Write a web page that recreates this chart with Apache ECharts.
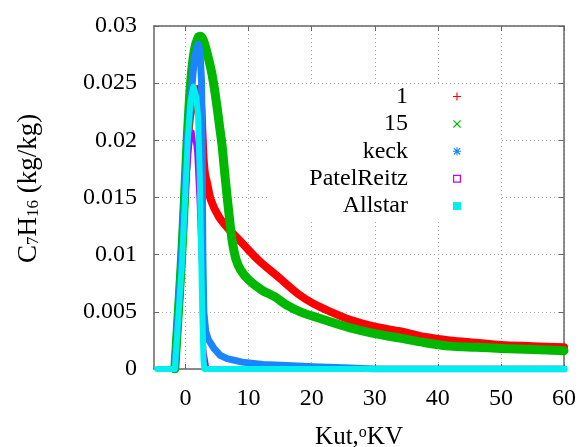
<!DOCTYPE html>
<html>
<head>
<meta charset="utf-8">
<script src="https://cdn.jsdelivr.net/npm/echarts@6/dist/echarts.min.js"></script>
<style>html,body{margin:0;padding:0;background:#fff}#c{width:579px;height:447px}</style>
</head>
<body>
<div id="c"></div>
<script>
const seriesNames = ['1', '15', 'keck', 'PatelReitz', 'Allstar'];
const xTicks = [0, 10, 20, 30, 40, 50, 60];
const yTicks = [0, 0.005, 0.01, 0.015, 0.02, 0.025, 0.03];
const yTickLabels = ['0', '0.005', '0.01', '0.015', '0.02', '0.025', '0.03'];

const data1 = [[-1.7,0],[-1.25,0.004],[-0.7,0.009],[-0.2,0.0145],[0.25,0.019],[0.7,0.022],[1.3,0.0235],[1.9,0.0245],[2.4,0.0235],[2.65,0.021],[2.85,0.0185],[3.1,0.017],[3.4,0.0163],[4.0,0.0148],[5.3,0.0133],[6.9,0.0122],[9.0,0.011],[11.6,0.0095],[14.8,0.008],[18,0.0065],[20.3,0.0057],[23,0.005],[26.1,0.0043],[30,0.0037],[34,0.0033],[38,0.0028],[41.9,0.0025],[46,0.0023],[50,0.0021],[55,0.002],[60,0.0019]];
const data15 = [[-1.7,0],[-1.25,0.004],[-0.7,0.009],[-0.2,0.0145],[0.25,0.02],[0.8,0.025],[1.4,0.0279],[2.0,0.029],[2.4,0.0291],[2.8,0.0288],[3.2,0.0281],[4.0,0.0263],[4.5,0.0248],[5.0,0.0229],[5.4,0.0212],[5.8,0.0195],[6.1,0.0178],[6.4,0.0161],[6.9,0.0135],[7.4,0.0112],[8.0,0.0096],[8.7,0.0087],[10,0.0078],[12.1,0.0069],[14.2,0.0063],[16,0.0056],[18.2,0.005],[22,0.0043],[26.1,0.0036],[30,0.0031],[34,0.0027],[38,0.0023],[41.9,0.002],[46,0.0019],[50,0.0018],[55,0.0017],[60,0.0016]];
const dataKeck = [[-1.7,0],[-1.25,0.004],[-0.7,0.009],[-0.2,0.0145],[0.3,0.02],[0.9,0.024],[1.4,0.0272],[2.0,0.0284],[2.3,0.0278],[2.55,0.025],[2.65,0.018],[2.75,0.01],[2.9,0.005],[3.2,0.0033],[3.6,0.0026],[4.5,0.0018],[5.5,0.0012],[6.6,0.0009],[9,0.0006],[12.3,0.0004],[16,0.0003],[20.3,0.0002],[25,0.0001],[30,0],[60,0]];
const dataPatel = [[-1.7,0],[-1.3,0.002],[-0.8,0.0058],[-0.3,0.0105],[0.3,0.016],[0.8,0.0195],[1.2,0.0208],[1.6,0.019],[2.0,0.0145],[2.4,0.0085],[2.7,0.0045],[3.1,0.0015],[3.5,0.0002],[4,0],[60,0]];
const dataAllstar = [[-4.5,0],[-1.7,0],[-1.2,0.004],[-0.6,0.009],[-0.1,0.0145],[0.35,0.02],[0.8,0.0235],[1.25,0.0247],[1.7,0.0238],[2.0,0.022],[2.25,0.017],[2.45,0.011],[2.65,0.005],[2.85,0.0008],[3.0,0],[60.5,0]];

const colors = ['#ff0000', '#00b800', '#1a85ff', '#bf00ff', '#00eeee'];
const widths = [8, 9, 7, 3, 6];
const smoothing = [0.3, 0.3, false, false, false];
const allData = [data1, data15, dataKeck, dataPatel, dataAllstar];
const icons = [
  'path://M4.3,0H5.7V10H4.3Z M0,4.3H10V5.7H0Z',
  'path://M0,1L1,0L10,9L9,10Z M9,0L10,1L1,10L0,9Z',
  'path://M4.3,0H5.7V10H4.3Z M0,4.3H10V5.7H0Z M0.5,1.5L1.5,0.5L9.5,8.5L8.5,9.5Z M8.5,0.5L9.5,1.5L1.5,9.5L0.5,8.5Z',
  'path://M0,0H10V10H0Z M1.5,1.5V8.5H8.5V1.5Z',
  'rect'
];
const rowCenters = [96.5, 123.9, 151.3, 178.7, 206.1];
const FONT = 'Liberation Serif';

const chart = echarts.init(document.getElementById('c'), null, {renderer: 'canvas'});

const axisLine = {show: true, onZero: false, lineStyle: {color: '#666', width: 1.5}};
const tickStyle = {color: '#666', width: 1};

const option = {
  backgroundColor: '#fff',
  animation: false,
  grid: {left: 154, right: 15, top: 26, bottom: 78, containLabel: false, outerBoundsMode: 'none'},
  graphic: {elements: [{type: 'rect', z: 1, shape: {x: 270, y: 84, width: 230, height: 137}, style: {fill: '#fff'}}]},
  legend: seriesNames.map((n, i) => ({
    data: [{name: n, icon: icons[i]}],
    orient: 'vertical',
    align: 'right',
    right: 118,
    top: rowCenters[i] - 12,
    padding: 0,
    itemWidth: 8,
    itemHeight: 8,
    selectedMode: false,
    itemStyle: {borderWidth: 0},
    textStyle: {fontFamily: FONT, fontSize: 24, lineHeight: 24, color: '#000', padding: [0, 40, 0, 0]}
  })),
  xAxis: [{
    type: 'value', min: -5, max: 60, position: 'bottom',
    name: '{a|Kut,}{o|o}{a|KV}', nameLocation: 'middle', nameGap: 56,
    nameTextStyle: {rich: {a: {fontFamily: FONT, fontSize: 25, color: '#000'}, o: {fontFamily: FONT, fontSize: 16, color: '#000', verticalAlign: 'top'}}},
    axisLine: axisLine,
    axisTick: {show: true, inside: true, length: 5, lineStyle: tickStyle, customValues: xTicks},
    axisLabel: {fontFamily: FONT, fontSize: 24, color: '#000', margin: 18, customValues: xTicks},
    splitLine: {show: true, lineStyle: {color: '#aaa', width: 1, type: [1, 3]}}
  }, {
    type: 'value', min: -5, max: 60, position: 'top',
    axisLine: axisLine,
    axisTick: {show: true, inside: true, length: 5, lineStyle: tickStyle, customValues: xTicks},
    axisLabel: {show: false},
    splitLine: {show: false}
  }],
  yAxis: [{
    type: 'value', min: 0, max: 0.03, interval: 0.005, position: 'left',
    name: '{a|C}{s|7}{a|H}{s|16}{a| (kg/kg)}', nameLocation: 'middle', nameGap: 112,
    nameTextStyle: {padding: [0, 0, 0, 18], rich: {a: {fontFamily: FONT, fontSize: 27, color: '#000'}, s: {fontFamily: FONT, fontSize: 17, color: '#000', verticalAlign: 'bottom'}}},
    axisLine: axisLine,
    axisTick: {show: true, inside: true, length: 5, lineStyle: tickStyle},
    axisLabel: {fontFamily: FONT, fontSize: 24, color: '#000', margin: 17,
      formatter: v => yTickLabels[Math.round(v / 0.005)]},
    splitLine: {show: true, lineStyle: {color: '#aaa', width: 1, type: [1, 3]}}
  }, {
    type: 'value', min: 0, max: 0.03, interval: 0.005, position: 'right',
    axisLine: axisLine,
    axisTick: {show: true, inside: true, length: 5, lineStyle: tickStyle},
    axisLabel: {show: false},
    splitLine: {show: false}
  }],
  series: seriesNames.map((n, i) => ({
    name: n,
    type: 'line',
    xAxisIndex: 0, yAxisIndex: 0,
    data: allData[i],
    showSymbol: false,
    smooth: smoothing[i],
    clip: i !== 4,
    z: 2 + i,
    color: colors[i],
    itemStyle: {color: colors[i]},
    lineStyle: {color: colors[i], width: widths[i], join: 'round', cap: 'round'}
  }))
};
chart.setOption(option);
</script>
</body>
</html>
